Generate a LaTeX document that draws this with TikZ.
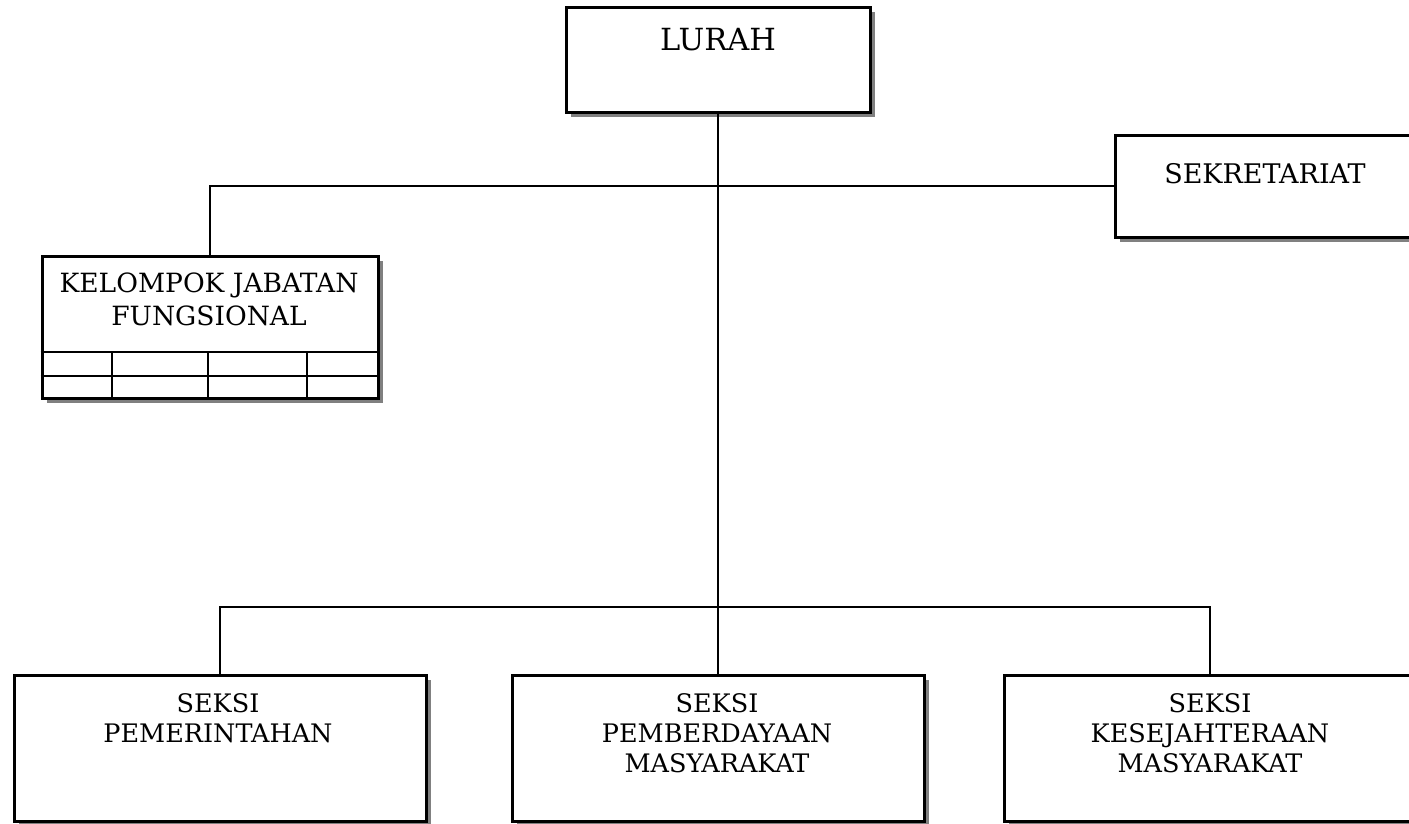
\documentclass[tikz,border=0pt]{standalone}
\usepackage{fontspec}
\setmainfont{DejaVu Serif}
\usetikzlibrary{shadows}
\begin{document}
\begin{tikzpicture}[x=1pt,y=-1pt,
  box/.style={draw=black,line width=3pt,fill=white,rectangle,inner sep=0pt,
    drop shadow={shadow xshift=5pt,shadow yshift=-5pt,fill=gray,opacity=1}},
  link/.style={draw=black,line width=2.6pt},
  grid/.style={draw=black,line width=2.8pt},
  lbl/.style={anchor=north,inner sep=0pt,align=center,font=\fontsize{25.5}{30}\selectfont},
  big/.style={anchor=north,inner sep=0pt,align=center,font=\fontsize{30.5}{36}\selectfont}]
\useasboundingbox (0,0) rectangle (1409,823);
\clip (0,0) rectangle (1409,823);
% boxes
\node[box,minimum width=304pt,minimum height=105pt] (lurah) at (718,59.5) {};
\node[box,minimum width=325pt,minimum height=102pt] (sek) at (1277.5,186) {};
\node[box,minimum width=336pt,minimum height=142pt] (kjf) at (210,327) {};
\node[box,minimum width=412pt,minimum height=146pt] (s1) at (220,748) {};
\node[box,minimum width=412pt,minimum height=146pt] (s2) at (718,748) {};
\node[box,minimum width=412pt,minimum height=146pt] (s3) at (1210,748) {};
% grid inside KJF
\draw[grid] (kjf.west |- 0,352) -- (kjf.east |- 0,352);
\draw[grid] (kjf.west |- 0,376) -- (kjf.east |- 0,376);
\foreach \gx in {112,208,307} \draw[grid] (\gx,352) -- (\gx,398);
% texts
\node[big] (tlurah) at (718,28) {LURAH};
\node[lbl,font=\fontsize{27}{30}\selectfont] (tsek) at (1265,163) {SEKRETARIAT};
\node[lbl,font=\fontsize{26.5}{33}\selectfont] (tkjf) at (209,273) {KELOMPOK JABATAN\\FUNGSIONAL};
\node[lbl] (ts1) at (218,693) {SEKSI\\PEMERINTAHAN};
\node[lbl] (ts2) at (717,693) {SEKSI\\PEMBERDAYAAN\\MASYARAKAT};
\node[lbl] (ts3) at (1210,693) {SEKSI\\KESEJAHTERAAN\\MASYARAKAT};
% connectors
\coordinate (bus) at (718,607);
\draw[link] (lurah.south) -- (s2.north);
\draw[link] (kjf.north) |- (sek.west);
\draw[link] (s1.north) |- (bus) -| (s3.north);
\end{tikzpicture}
\end{document}
